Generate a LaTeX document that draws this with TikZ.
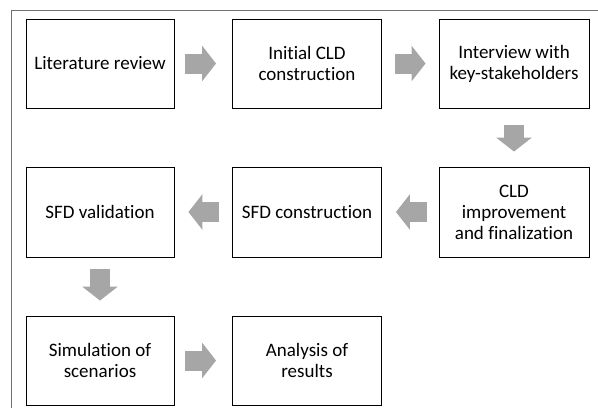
\documentclass[tikz,border=0pt]{standalone}
\usepackage{fontspec}
\setmainfont{Carlito}[Ligatures=NoCommon]
\usepackage{xcolor}
\usetikzlibrary{arrows.meta}
\definecolor{arrowgray}{RGB}{166,166,166}
\definecolor{framegray}{RGB}{112,112,112}

\begin{document}
\begin{tikzpicture}[x=1pt,y=-1pt,
  stepbox/.style={draw,rectangle,line width=0.9pt,minimum width=148pt,minimum height=89pt,align=center,font=\fontsize{19}{21}\selectfont},
  flow/.style={draw=arrowgray,line width=20pt,-{Triangle[length=14pt,width=35pt,fill=arrowgray]}}]
\useasboundingbox (0,0) rectangle (598,408);
% Frame
\draw[framegray,line width=0.8pt] (598,10) -- (11,10) -- (11,408);

% Row 1
\node[stepbox] (lit) at (100,63.5) {Literature review};
\node[stepbox,minimum width=149pt] (init) at (307,63.5) {Initial CLD\\construction};
\node[stepbox,minimum width=150pt] (interview) at (514,63.5) {Interview with\\key-stakeholders};

% Row 2
\node[stepbox,minimum height=90pt] (sfdval) at (100,212) {SFD validation};
\node[stepbox,minimum width=149pt,minimum height=90pt] (sfdcon) at (307,212) {SFD construction};
\node[stepbox,minimum width=150pt,minimum height=90pt] (cld) at (514,212) {CLD\\improvement\\and finalization};

% Row 3
\node[stepbox] (sim) at (100,360.5) {Simulation of\\scenarios};
\node[stepbox,minimum width=149pt] (res) at (307,360.5) {Analysis of\\results};

% Block arrows
\draw[flow,shorten <=11pt,shorten >=16pt] (lit) -- (init);
\draw[flow,shorten <=13pt,shorten >=13pt] (init) -- (interview);
\draw[flow,shorten <=17pt,shorten >=15pt] (interview) -- (cld);
\draw[flow,shorten <=12pt,shorten >=14pt] (cld) -- (sfdcon);
\draw[flow,shorten <=13pt,shorten >=14pt] (sfdcon) -- (sfdval);
\draw[flow,shorten <=12pt,shorten >=15pt] (sfdval) -- (sim);
\draw[flow,shorten <=11pt,shorten >=16pt] (sim) -- (res);
\end{tikzpicture}
\end{document}
